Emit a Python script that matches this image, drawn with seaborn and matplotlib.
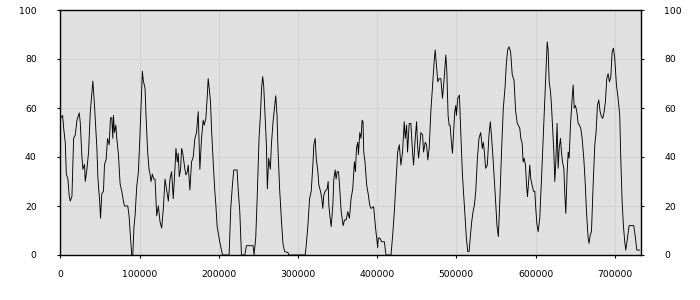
import numpy as np
import pandas as pd
import matplotlib
matplotlib.use("Agg")
import matplotlib.pyplot as plt
import seaborn as sns

# x positions (in thousands) and values
x_thousands = [
    1, 2.9, 4.2, 6.3, 7.6, 9.6, 11.3, 12.6, 14.7, 16.8, 18.9, 21.0, 23.9, 25.2, 27.3, 28.5, 30.6, 31.5,
    33.6, 35.7, 37.8, 39.9, 41.1, 43.2, 46.2, 47.4, 48.2, 49.5, 50.8, 52.4, 54.5, 55.8, 57.9, 59.6,
    61.7, 63.4, 65.0, 66.3, 67.1, 68.4, 70.1, 71.3, 73.4, 75.5, 77.6, 79.7, 81.0, 85.2, 86.8, 88.1,
    90.2, 91.5, 93.1, 94.4, 96.5, 98.6, 100.7, 102.0, 103.6, 104.9, 107.0, 108.2, 110.3, 112.0, 113.3,
    114.5, 116.2, 117.9, 119.6, 121.7, 123.8, 125.9, 128.0, 130.1, 132.2, 134.3, 136.4, 138.5,
    140.5, 142.6, 144.7, 146.0, 147.7, 148.9, 150.2, 151.9, 153.1, 154.4, 156.1, 157.3, 158.6, 160.3,
    161.5, 163.6, 165.7, 167.8, 169.9, 172.0, 174.1, 175.4, 176.2, 178.3, 180.4, 181.7, 183.8, 185.4,
    186.7, 188.0, 189.6, 190.9, 193.0, 195.1, 196.4, 198.0, 200.5, 202.2, 204.8, 213.1, 215.2, 217.3,
    219.0, 223.2, 224.5, 226.6, 228.7, 232.9, 235.0, 243.4, 244.6, 246.7, 248.4, 250.9, 252.6, 254.3,
    255.5, 256.8, 258.5, 260.2, 261.4, 263.1, 265.2, 266.5, 268.6, 270.7, 272.0, 273.6, 274.8, 276.9,
    279.0, 281.1, 283.2, 287.4,
    288.6, 309.2, 310.5, 312.6, 314.7, 316.8, 318.9, 320.1, 321.8, 323.1, 325.2, 326.4, 328.5, 330.2,
    331.4, 332.7, 334.4, 336.9, 338.2, 339.0, 340.7, 342.0, 344.1, 345.3, 347.0, 348.2, 349.5, 351.2,
    352.5, 354.6, 355.8, 357.1, 358.8, 360.9, 362.9, 365.0, 367.1, 369.2, 371.3, 372.6, 373.9, 375.5,
    376.4, 378.1, 379.7, 381.0, 382.2, 383.1, 384.7, 386.8, 388.9, 390.6, 392.3, 395.6, 397.7, 399.4,
    400.7, 401.5, 403.6, 405.7, 409.1, 411.2, 417.5, 419.6, 421.7, 423.8, 425.9,
    428.0, 430.0, 432.1, 434.2, 435.5, 437.2, 438.4, 440.5, 442.6, 444.7, 446.0, 448.1, 449.8, 451.0,
    452.3, 454.0, 455.2, 457.4, 458.6, 460.7, 462.4, 464.0, 465.7, 467.8, 469.9, 472.0, 473.3, 474.9,
    476.6, 478.3, 480.4, 482.5, 484.6, 486.7, 488.0, 489.6, 490.9, 492.1, 493.8, 495.1, 496.4, 498.0,
    499.3, 500.1, 501.8, 503.9, 505.6, 507.7, 509.8, 511.0, 512.7, 514.4, 516.1, 517.8, 519.4, 521.1,
    522.8, 524.5, 526.6, 528.6, 530.7, 532.8, 534.1, 535.4, 537.0, 539.1, 541.2, 542.9, 544.6, 546.3,
    547.9, 549.6, 551.3, 553.0, 554.7, 557.2, 559.3, 561.4, 563.1, 564.8, 566.4, 568.5, 570.6, 572.8,
    574.9, 577.0, 578.2,
    580.1, 581.4, 583.1, 584.3, 585.6, 587.3, 588.6, 589.8, 591.5, 592.7, 594.0, 595.7, 597.4, 599.1,
    600.3, 601.6, 603.3, 605.3, 607.5, 609.6, 611.7, 613.4, 614.7, 615.9, 617.2, 618.9, 620.1, 621.4,
    623.1, 624.3, 625.6, 627.2, 628.5, 629.8, 631.5, 632.7, 634.0, 635.7, 637.0, 638.2, 639.9, 641.2,
    642.4, 644.1, 646.2, 647.5, 648.8, 650.4, 652.1, 653.8, 655.4, 657.1, 658.8, 660.9, 662.6, 664.3,
    666.4, 667.6, 668.9, 670.6, 672.7, 674.8, 676.4, 678.1, 679.8, 681.5, 683.2, 684.9, 686.6, 688.2,
    689.9, 691.6, 693.3, 695.0, 696.7, 698.3, 700.0, 702.1, 704.2, 706.3, 707.6, 709.3, 711.0, 712.6,
    713.9, 716.0, 718.1, 724.0, 726.2, 727.8, 731.6,
]
values = [
    56, 57, 52, 45.6, 33, 31, 24, 22, 24, 47.6, 49, 55, 58, 54, 40, 35, 37, 30,
    35, 42, 58, 66, 71, 61, 43.5, 32, 28, 23, 15, 25, 26, 37, 39, 47.6,
    45, 56, 56, 47.6, 57, 50, 53, 47.6, 41, 29, 26, 22, 20, 20, 16, 9.5,
    0, 0, 12, 16, 28, 34, 50, 61, 75, 71, 68, 57, 42, 35, 33,
    30, 33, 31, 31, 16, 20, 13.6, 11, 19, 31, 26.5, 22, 31,
    34, 23, 35, 43.5, 38, 41.5, 32, 35, 43.5, 42, 38, 35, 32.7, 34,
    36.7, 26.5, 38, 40, 47.6, 50, 58.5, 43.5, 35, 47.6, 55, 53, 55.8, 64,
    72, 68, 62.6, 51.7, 38, 26, 20.4, 11.6, 6.8, 4, 0, 0, 19, 28.6,
    34.7, 34.7, 27, 17.7, 0, 0, 3.8, 3.8, 0, 6.8, 21.8, 47.6, 57, 69,
    72.8, 69, 57, 45, 27, 39.5, 35, 45, 54.4, 61, 65, 57, 43.5, 27,
    15, 4.7, 1.4, 1,
    0, 0, 4, 12, 23, 26, 37, 45, 47.6, 39.5, 34, 28.6, 26, 23,
    19, 24.5, 26, 27, 30, 20.4, 15, 11.6, 20.4, 31, 34.7, 31, 34, 34,
    28.6, 17.7, 15, 12, 14.3, 14.3, 17.7, 15, 23, 27, 38, 34, 43.5, 46,
    41, 50, 47.6, 55, 54.4, 42, 38, 28.6, 24.5, 20.4, 19, 19.7, 12, 6.8,
    3, 7, 6.8, 5.4, 5.4, 0, 0, 8, 17.7, 30, 42,
    45, 36.7, 42, 54.4, 47.6, 53, 42, 53.7, 53.7, 42, 36.7, 47.6, 54.4, 45,
    39.5, 45, 50, 49, 42, 46, 45, 38.8, 43.5, 58.5, 69, 79, 83.7, 77.6,
    70.7, 72, 72, 64, 72, 81.6, 74.8, 57, 53, 53, 46, 41.5, 49, 58.5,
    61, 57, 64, 65.3, 50, 32.7, 21.8, 15, 6.8, 1.4, 1.4, 8, 13.6, 17.7,
    20.4, 26, 39.5, 47.6, 50, 43.5, 46, 42, 35.4, 36.7, 49, 54.4, 47.6, 39.5,
    31, 21.8, 12, 7.5, 20.4, 43.5, 60, 68, 78, 83.7, 85, 83, 73.5, 71.4,
    58.5, 53.7, 53,
    51.7, 47.6, 45.6, 38, 39.5, 36.7, 28.6, 23.8, 31, 36.7, 31, 28.6, 26, 26,
    19, 13, 9.5, 15, 31, 47.6, 65.3, 77.6, 87, 83.7, 70.7, 66.7, 61, 53,
    42, 30, 38, 53.7, 35.4, 43.5, 47.6, 42, 38, 35.4, 24.5, 17, 34, 42,
    39.5, 53, 64, 69.4, 60, 61, 58.5, 53.7, 53, 51.7, 47.6, 39.5, 30, 17.7,
    6.8, 4.8, 8, 9.5, 28.6, 45, 50, 61, 63.3, 58.5, 56.5, 55.8, 58.5, 62.6,
    72, 74, 70.7, 72.8, 83, 84.4, 80.3, 69.4, 64, 57, 39.5, 21.8, 11.6, 5.4,
    2, 6.8, 12, 12, 6.8, 2, 2,
]
x_ticks = [0, 100000, 200000, 300000, 400000, 500000, 600000, 700000]
y_ticks = [0, 20, 40, 60, 80, 100]

df = pd.DataFrame({"x": np.array(x_thousands) * 1000, "y": values})

sns.set_theme(style="white")
plt.rcParams["font.family"] = ["DejaVu Sans"]

fig = plt.figure(figsize=(7, 3), dpi=100)
ax = fig.add_axes([60.3 / 700, 45 / 300, (640.5 - 60.3) / 700, 245 / 300])
ax.set_facecolor("#e0e0e0")

sns.lineplot(data=df, x="x", y="y", ax=ax, color="black", linewidth=0.65,
             estimator=None, sort=False)

ax.set_xlim(0, 732500)
ax.set_ylim(0, 100)
ax.set_xticks(x_ticks)
ax.set_xticklabels([str(v) for v in x_ticks])
ax.set_yticks(y_ticks)
ax.set_yticklabels([str(v) for v in y_ticks])
ax.grid(True, color="#d2d2d2", linewidth=0.8)
ax.set_axisbelow(True)
ax.set_xlabel("")
ax.set_ylabel("")

for s in ax.spines.values():
    s.set_color("black")
    s.set_linewidth(1.0)
    s.set_visible(True)

ax.tick_params(axis="y", which="both", left=True, right=True, labelleft=True,
               labelright=True, length=2.5, width=0.8, color="black",
               direction="out", pad=14.5, labelsize=6.7, labelcolor="black")
ax.tick_params(axis="x", which="both", bottom=True, length=2.5, width=0.8,
               color="black", direction="out", pad=8, labelsize=6.7,
               labelcolor="black")

fig.savefig("out.png", dpi=100, facecolor="white")
